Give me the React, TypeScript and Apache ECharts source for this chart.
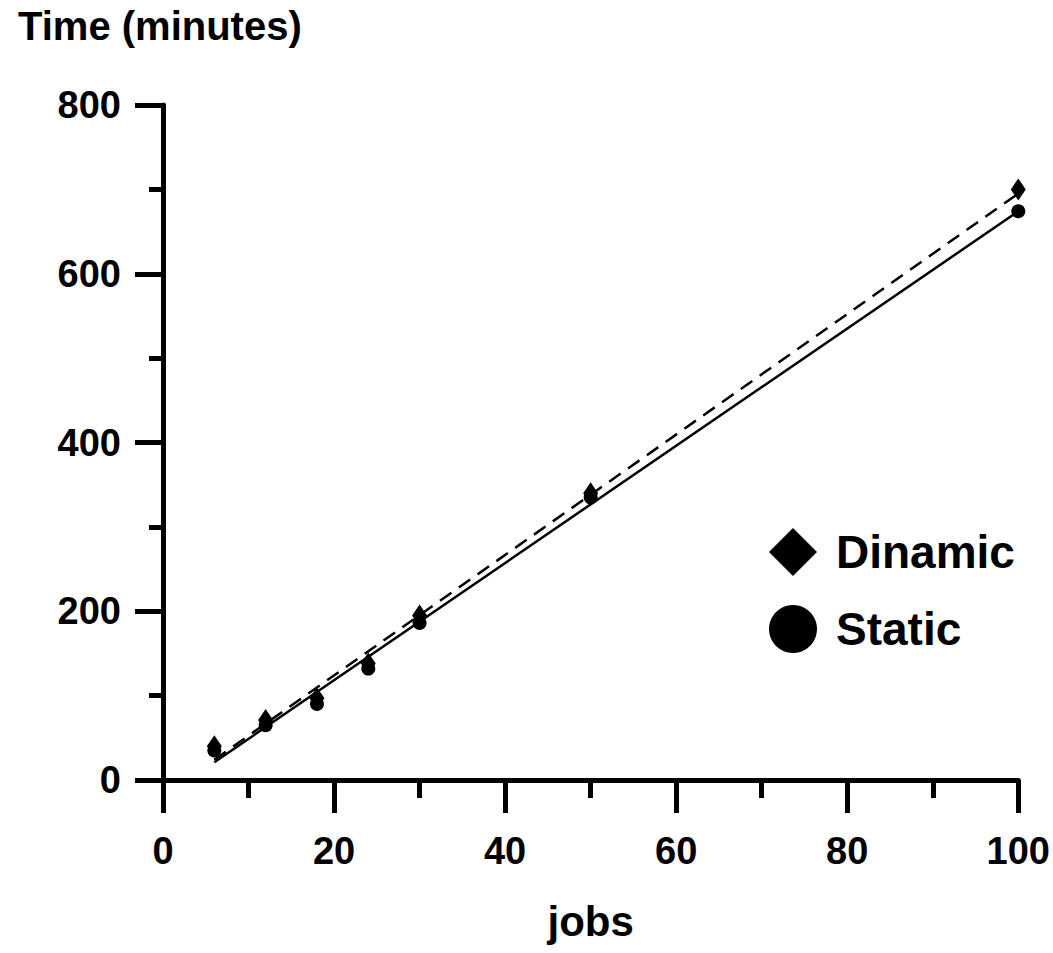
import React, { useEffect, useRef } from "react";
import * as echarts from "echarts";

const jobs = [6, 12, 18, 24, 30, 50, 100];
const dinamicTimes = [40, 71, 97, 138, 195, 340, 700];
const staticTimes = [35, 65, 90, 132, 186, 335, 674];
const fitJobs = [6, 100];
const dinamicFit = [24, 695];
const staticFit = [21, 674];

const SANS = "'Liberation Sans', Arial, sans-serif";

export default function App() {
  const ref = useRef<HTMLDivElement>(null);
  useEffect(() => {
    if (!ref.current) return;
    const chart = echarts.init(ref.current, undefined, { renderer: "svg" });
    const pairs = (xs: number[], ys: number[]) => xs.map((x, i) => [x, ys[i]]);
    chart.setOption({
      animation: false,
      backgroundColor: "#ffffff",
      title: {
        text: "Time (minutes)",
        left: 18,
        top: 6,
        padding: 0,
        textStyle: { fontFamily: SANS, fontWeight: "bold", fontSize: 40, color: "#000" },
      },
      grid: { left: 163, right: 33, top: 105, bottom: 173, containLabel: false },
      legend: {
        orient: "vertical",
        left: 769,
        top: 528,
        padding: 0,
        itemWidth: 48,
        itemHeight: 48,
        itemGap: 29,
        data: [
          { name: "Dinamic", icon: "diamond" },
          { name: "Static", icon: "circle" },
        ],
        itemStyle: { color: "#000", opacity: 1 },
        textStyle: {
          fontFamily: SANS,
          fontWeight: "bold",
          fontSize: 46,
          color: "#000",
          padding: [0, 0, 0, 14],
        },
      },
      xAxis: {
        type: "value",
        min: 0,
        max: 100,
        interval: 20,
        name: "jobs",
        nameLocation: "middle",
        nameGap: 120,
        nameTextStyle: { fontFamily: SANS, fontWeight: "bold", fontSize: 42, color: "#000" },
        axisLine: { show: true, onZero: false, lineStyle: { color: "#000", width: 5 } },
        axisTick: { show: true, length: 33, lineStyle: { color: "#000", width: 5 } },
        minorTick: { show: true, splitNumber: 2, length: 18, lineStyle: { color: "#000", width: 5 } },
        splitLine: { show: false },
        axisLabel: { margin: 52, fontFamily: SANS, fontWeight: "bold", fontSize: 38, color: "#000" },
      },
      yAxis: {
        type: "value",
        min: 0,
        max: 800,
        interval: 200,
        axisLine: { show: true, onZero: false, lineStyle: { color: "#000", width: 5 } },
        axisTick: { show: true, length: 28, lineStyle: { color: "#000", width: 5 } },
        minorTick: { show: true, splitNumber: 2, length: 14, lineStyle: { color: "#000", width: 5 } },
        splitLine: { show: false },
        axisLabel: { margin: 42, fontFamily: SANS, fontWeight: "bold", fontSize: 38, color: "#000" },
      },
      series: [
        {
          name: "Dinamic fit",
          type: "line",
          data: pairs(fitJobs, dinamicFit),
          symbol: "none",
          lineStyle: { color: "#000", width: 2.5, type: [14, 9] },
          z: 1,
        },
        {
          name: "Static fit",
          type: "line",
          data: pairs(fitJobs, staticFit),
          symbol: "none",
          lineStyle: { color: "#000", width: 2.5, type: "solid" },
          z: 1,
        },
        {
          name: "Dinamic",
          type: "scatter",
          data: pairs(jobs, dinamicTimes),
          symbol: "diamond",
          symbolSize: [15, 22],
          itemStyle: { color: "#000", opacity: 1 },
          z: 3,
        },
        {
          name: "Static",
          type: "scatter",
          data: pairs(jobs, staticTimes),
          symbol: "circle",
          symbolSize: 14,
          itemStyle: { color: "#000", opacity: 1 },
          z: 3,
        },
      ],
    });
    return () => chart.dispose();
  }, []);
  return (
    <div
      ref={ref}
      style={{ position: "fixed", left: 0, top: 0, width: 1053, height: 953, background: "#fff" }}
    />
  );
}
